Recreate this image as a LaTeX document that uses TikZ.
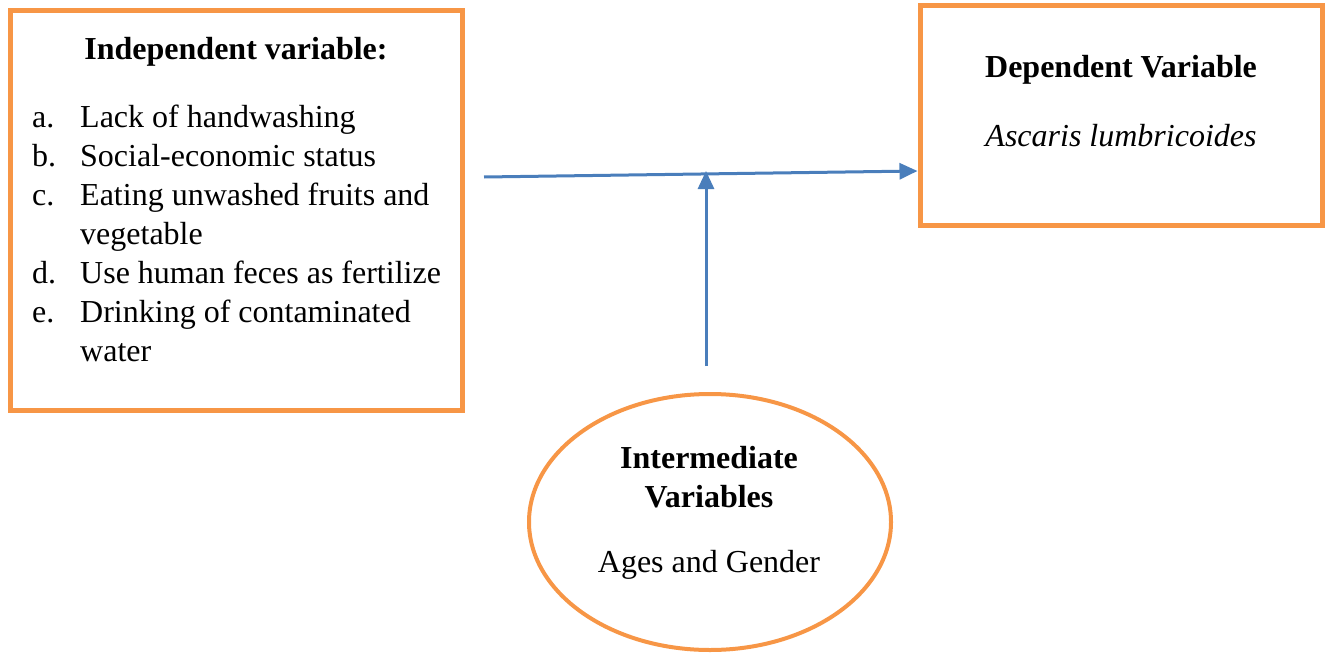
\documentclass[tikz,border=0pt]{standalone}
\usepackage{fontspec}
\setmainfont{Liberation Serif}
\usetikzlibrary{arrows.meta, positioning, shapes.geometric, calc}
\definecolor{boxorange}{HTML}{F79646}
\definecolor{linkblue}{HTML}{4A7EBB}

\begin{document}
\begin{tikzpicture}[
    x=1pt, y=-1pt,
    >={Triangle[length=18pt,width=16pt]},
    every node/.style={font=\fontsize{32}{39}\selectfont},
    frame/.style={rectangle, draw=boxorange, line width=5pt, inner sep=0pt},
    oval/.style={ellipse, draw=boxorange, line width=4pt, inner sep=0pt, minimum width=362pt, minimum height=256pt},
    txt/.style={anchor=base, inner sep=0pt},
    link/.style={->, color=linkblue, line width=3pt}
  ]
    \useasboundingbox (0,0) rectangle (1327,653);

    % boxes
    \node[frame, minimum width=452pt, minimum height=400pt] (indep) at (236.5,210.5) {};
    \node[frame, minimum width=402pt, minimum height=220pt] (dep) at (1121,115.5) {};
    \node[oval] (inter) at (710,522) {};

    % texts
    \node[txt, font=\fontsize{32}{39}\selectfont\bfseries] (indeptitle) at (236,59) {Independent variable:};
    \node[anchor=base west, inner sep=0pt] (items) at (32,127) {%
      \begin{tabular}[t]{@{}p{48pt}@{}l@{}}
        a. & Lack of handwashing\\
        b. & Social-economic status\\
        c. & Eating unwashed fruits and\\
           & vegetable\\
        d. & Use human feces as fertilize\\
        e. & Drinking of contaminated\\
           & water
      \end{tabular}};
    \node[txt, font=\fontsize{32}{39}\selectfont\bfseries] (deptitle) at (1121,77) {Dependent Variable};
    \node[txt, font=\fontsize{32}{39}\selectfont\itshape] (depname) at (1121,146) {Ascaris lumbricoides};
    \node[txt, font=\fontsize{32}{39}\selectfont\bfseries] (intertitle) at (709,468) {Intermediate};
    \node[txt, font=\fontsize{32}{39}\selectfont\bfseries] (intertitleb) at (709,507) {Variables};
    \node[txt] (intername) at (709,572) {Ages and Gender};

    % connectors
    \coordinate (hstart) at (484,177);
    \coordinate (hend) at ([yshift=-55.5pt]dep.west);
    \coordinate (vstart) at ([shift={(-4pt,26pt)}]inter.north);
    \draw[link] (hstart) -- (hend);
    \draw[link] (vstart) -- (vstart |- hend);
\end{tikzpicture}
\end{document}
